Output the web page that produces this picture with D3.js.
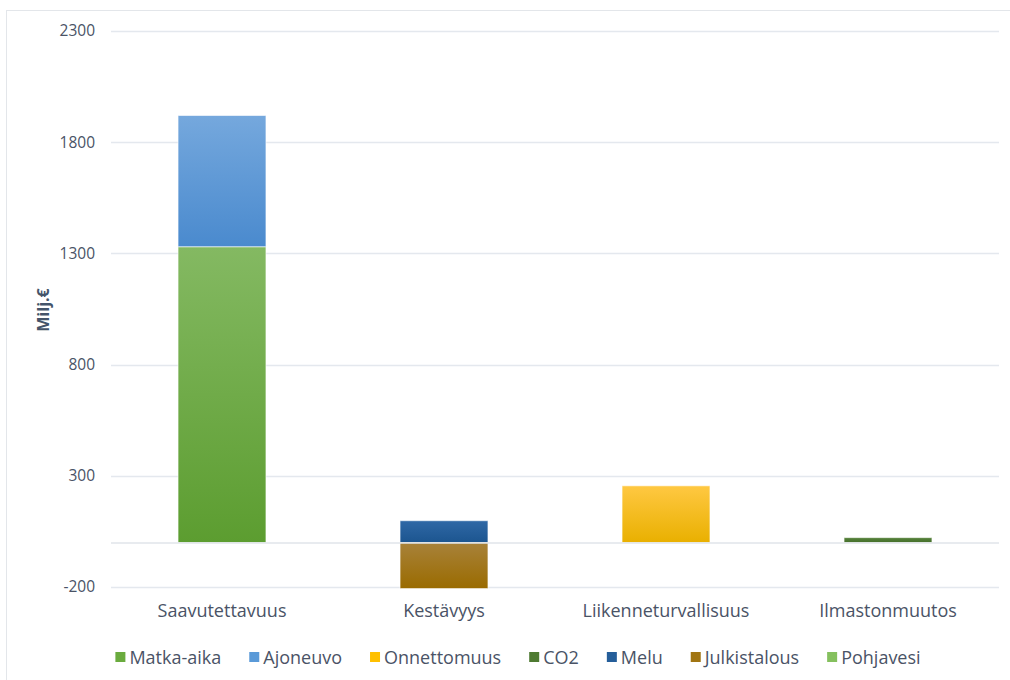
<!DOCTYPE html>
<html>
<head>
<meta charset="utf-8">
<script src="https://cdn.jsdelivr.net/npm/d3@7"></script>
<style>
  html, body { margin: 0; padding: 0; background: #fff; }
  svg { display: block; }
  text { font-family: "Open Sans", Lato, sans-serif; }
</style>
</head>
<body>
<svg id="chart" width="1010" height="680"></svg>
<script>
const categories = ["Saavutettavuus", "Kestävyys", "Liikenneturvallisuus", "Ilmastonmuutos"];
const seriesNames = ["Matka-aika", "Ajoneuvo", "Onnettomuus", "CO2", "Melu", "Julkistalous", "Pohjavesi"];
const matkaAika    = [1330, 0, 0, 0];
const ajoneuvo     = [590, 0, 0, 0];
const onnettomuus  = [0, 0, 255, 0];
const co2          = [0, 0, 0, 22];
const melu         = [0, 98, 0, 0];
const julkistalous = [0, -207, 0, 0];
const pohjavesi    = [0, 0, 0, 0];
const tickValues = [-200, 300, 800, 1300, 1800, 2300];
const tickLabels = ["-200", "300", "800", "1300", "1800", "2300"];

const seriesValues = [matkaAika, ajoneuvo, onnettomuus, co2, melu, julkistalous, pohjavesi];
const colors = {
  "Matka-aika":   ["#84b962", "#5c9d30"],
  "Ajoneuvo":     ["#75a8dd", "#4a8ace"],
  "Onnettomuus":  ["#ffc842", "#e9b000"],
  "CO2":          ["#55823a", "#466f2b"],
  "Melu":         ["#2f68a6", "#1c558f"],
  "Julkistalous": ["#a8823a", "#9a6b00"],
  "Pohjavesi":    ["#9bcb7c", "#76ad52"]
};
const legendColors = {
  "Matka-aika": "#6aab3e", "Ajoneuvo": "#5a9ad8", "Onnettomuus": "#ffc000",
  "CO2": "#4e7a31", "Melu": "#255e9a", "Julkistalous": "#a17512", "Pohjavesi": "#85c05e"
};

const svg = d3.select("#chart");
const defs = svg.append("defs");
seriesNames.forEach((n, i) => {
  const g = defs.append("linearGradient").attr("id", "grad" + i)
    .attr("x1", 0).attr("y1", 0).attr("x2", 0).attr("y2", 1);
  g.append("stop").attr("offset", "0%").attr("stop-color", colors[n][0]);
  g.append("stop").attr("offset", "100%").attr("stop-color", colors[n][1]);
});

// outer border
svg.append("rect").attr("x", 6.5).attr("y", 10.5).attr("width", 1010).attr("height", 680)
  .attr("fill", "none").attr("stroke", "#e3e6ea").attr("stroke-width", 1);

const left = 111, right = 999;
const y = d3.scaleLinear().domain([-200, 2300]).range([587, 31]);
const x = d3.scaleBand().domain(categories).range([left, right])
  .paddingInner(0.604).paddingOuter(0.302);

// gridlines
svg.append("g").selectAll("line").data(tickValues).join("line")
  .attr("x1", left).attr("x2", right)
  .attr("y1", d => Math.round(y(d)) + 0.5).attr("y2", d => Math.round(y(d)) + 0.5)
  .attr("stroke", "#e4e8ee").attr("stroke-width", 1.5);

// y axis labels
const yAxis = d3.axisLeft(y).tickValues(tickValues).tickSize(0).tickPadding(0)
  .tickFormat((d, i) => tickLabels[i]);
const yg = svg.append("g").attr("transform", `translate(95,0)`).call(yAxis);
yg.select(".domain").remove();
yg.selectAll("text").attr("font-size", 15.5).attr("fill", "#4a5366")
  .attr("font-family", "'Open Sans', Lato, sans-serif");

// stacked bars
const stackData = categories.map((c, ci) => {
  const o = { cat: c };
  seriesNames.forEach((n, si) => { o[n] = seriesValues[si][ci]; });
  return o;
});
const stack = d3.stack().keys(seriesNames).offset(d3.stackOffsetDiverging);
const layers = stack(stackData);
layers.forEach((layer, si) => {
  svg.append("g").selectAll("rect").data(layer.filter(d => d[1] !== d[0])).join("rect")
    .attr("x", d => x(d.data.cat))
    .attr("width", x.bandwidth())
    .attr("y", d => y(Math.max(d[0], d[1])))
    .attr("height", d => Math.abs(y(d[0]) - y(d[1])))
    .attr("fill", `url(#grad${si})`)
    .attr("stroke", "#ffffff").attr("stroke-opacity", 0.6).attr("stroke-width", 1);
});

// zero axis line
svg.append("line").attr("x1", left).attr("x2", right)
  .attr("y1", y(0) + 0.5).attr("y2", y(0) + 0.5)
  .attr("stroke", "#e0e4ea").attr("stroke-width", 1.5);

// x axis labels
const xAxis = d3.axisBottom(x).tickSize(0).tickPadding(0);
const xg = svg.append("g").attr("transform", `translate(0,604)`).call(xAxis);
xg.select(".domain").remove();
xg.selectAll("text").attr("font-size", 18).attr("fill", "#4a5366")
  .attr("font-family", "'Open Sans', Lato, sans-serif");

// y axis title
svg.append("text").attr("transform", "translate(49,310) rotate(-90)")
  .attr("text-anchor", "middle").attr("font-size", 16).attr("font-weight", "bold")
  .attr("fill", "#44546a").text("Milj.€");

// legend
const lg = svg.append("g");
let cx = 0;
const gap = 28;
seriesNames.forEach(n => {
  const g = lg.append("g");
  g.append("rect").attr("x", 0).attr("y", -5).attr("width", 10).attr("height", 10)
    .attr("fill", legendColors[n]);
  const t = g.append("text").attr("x", 14).attr("y", 6.5).attr("font-size", 18)
    .attr("fill", "#4a5366").text(n);
  const w = 14 + t.node().getComputedTextLength();
  g.attr("transform", `translate(${cx},0)`);
  cx += w + gap;
});
const totalW = cx - gap;
lg.attr("transform", `translate(${518 - totalW / 2},657)`);
</script>
</body>
</html>
